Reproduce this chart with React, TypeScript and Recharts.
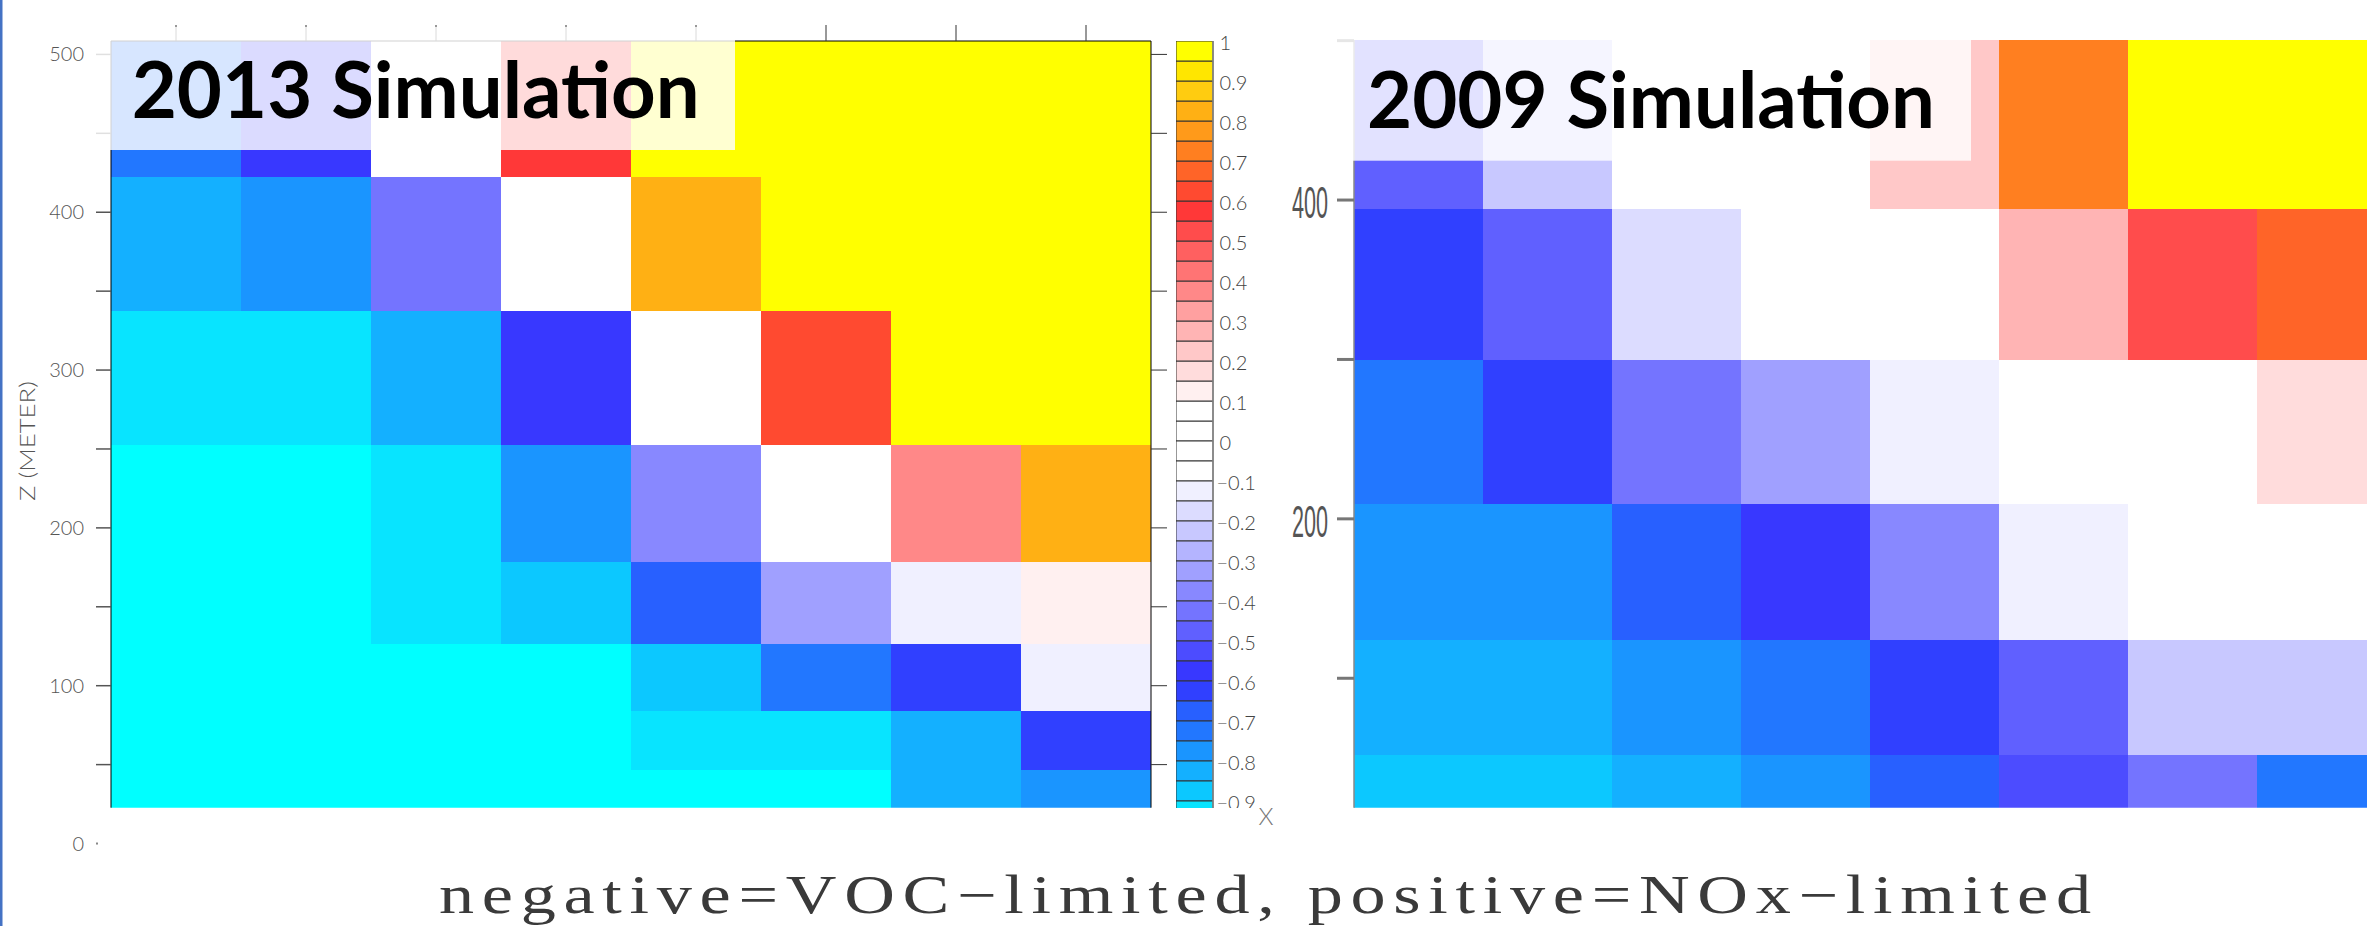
import React from "react";
import { BarChart, Bar, XAxis, YAxis, Cell } from "recharts";

// grid columns (x index of the model cross-section)
const COLUMNS = ["1", "2", "3", "4", "5", "6", "7", "8"];

// colour bar, top (1) to bottom (-1), one entry per 0.05 step
const CBAR_COLORS = [
  "#ffff00", "#ffe600", "#ffcc10", "#ffb014", "#ff9a1a", "#ff7f20", "#ff6428", "#ff4a30",
  "#ff3838", "#ff4c4c", "#ff6060", "#ff7474", "#ff8888", "#ffa0a0", "#ffb4b4", "#ffc8c8",
  "#ffdcdc", "#fff0f0", "#ffffff", "#ffffff", "#ffffff", "#ffffff", "#f0f0ff", "#dcdcff",
  "#c8c8ff", "#b4b4ff", "#a0a0ff", "#8888ff", "#7474ff", "#6060ff", "#4c4cff", "#3838ff",
  "#3040ff", "#2860ff", "#2277ff", "#1a95ff", "#14b0ff", "#0cc8ff", "#08e4ff", "#00ffff",
];
const CBAR_STEP = 0.05;
const CBAR_TICKS = [1, 0.9, 0.8, 0.7, 0.6, 0.5, 0.4, 0.3, 0.2, 0.1, 0, -0.1, -0.2, -0.3, -0.4, -0.5, -0.6, -0.7, -0.8, -0.9];

// 2013 run: layer edges (m) and indicator per layer (bottom first) per column
const EDGES_2013 = [0, 46.6, 84, 126.3, 178.6, 252.3, 337.3, 422.5, 510];
const RATIO_2013 = [
  [-0.975, -0.975, -0.975, -0.975, -0.975, -0.975, -0.825, -0.775],
  [-0.975, -0.975, -0.975, -0.975, -0.925, -0.925, -0.825, -0.625],
  [-0.975, -0.975, -0.975, -0.975, -0.875, -0.725, -0.625, -0.125],
  [-0.975, -0.975, -0.925, -0.875, -0.675, -0.325, -0.125, 0.125],
  [-0.975, -0.975, -0.925, -0.775, -0.375, 0.0, 0.375, 0.825],
  [-0.925, -0.925, -0.825, -0.575, 0.0, 0.625, 0.975, 0.975],
  [-0.825, -0.775, -0.425, 0.0, 0.825, 0.975, 0.975, 0.975],
  [-0.725, -0.575, 0.0, 0.575, 0.975, 0.975, 0.975, 0.975],
];
const Z_TICKS_2013 = [0, 50, 100, 150, 200, 250, 300, 350, 400, 450, 500];

// 2009 run
const EDGES_2009 = [0, 52, 124.3, 209.5, 299.5, 394.6, 505];
const RATIO_2009 = [
  [-0.875, -0.875, -0.825, -0.775, -0.675, -0.525, -0.425, -0.725],
  [-0.825, -0.825, -0.775, -0.725, -0.625, -0.475, -0.225, -0.225],
  [-0.775, -0.775, -0.675, -0.575, -0.375, -0.125, 0.0, 0.0],
  [-0.725, -0.625, -0.425, -0.325, -0.125, 0.0, 0.0, 0.175],
  [-0.625, -0.475, -0.175, 0.0, 0.0, 0.275, 0.525, 0.675],
  [-0.475, -0.225, 0.0, 0.0, 0.225, 0.725, 0.975, 0.975],
];
const Z_TICKS_2009 = [100, 200, 300, 400, 500];

const TICK_FONT = "Lato, 'Open Sans', sans-serif";

function colorFor(v: number) {
  let i = Math.floor((1 - v) / CBAR_STEP + 1e-9);
  if (i < 0) i = 0;
  if (i > CBAR_COLORS.length - 1) i = CBAR_COLORS.length - 1;
  return CBAR_COLORS[i];
}

function layerTable(edges: number[]) {
  return COLUMNS.map((c) => {
    const row: any = { col: c };
    for (let i = 0; i < edges.length - 1; i++) row[`l${i}`] = edges[i + 1] - edges[i];
    return row;
  });
}

const TABLE_2013 = layerTable(EDGES_2013);
const TABLE_2009 = layerTable(EDGES_2009);

const HALF = CBAR_COLORS.length / 2;
const CBAR_TABLE = [
  (() => {
    const row: any = { col: "bar" };
    for (let i = 0; i < HALF; i++) {
      row[`p${i}`] = CBAR_STEP;
      row[`n${i}`] = -CBAR_STEP;
    }
    return row;
  })(),
];

const layerBars = (ratio: number[][]) =>
  ratio.map((row, i) => (
    <Bar key={i} dataKey={`l${i}`} stackId="z" isAnimationActive={false}>
      {row.map((v, c) => (
        <Cell key={c} fill={colorFor(v)} />
      ))}
    </Bar>
  ));

function Tick2013(props: any) {
  const { x, y, payload } = props;
  const v = payload.value;
  return (
    <g>
      {v === 0 ? (
        <rect x={x + 12} y={y - 1} width={2} height={2} fill="#888" />
      ) : (
        <line x1={x + 12} x2={x + 27} y1={y} y2={y} stroke="#555" strokeWidth={1.5} />
      )}
      {v % 100 === 0 && (
        <text x={x} y={y + 7} textAnchor="end" fontFamily={TICK_FONT} fontWeight={300} fontSize={20} fill="#555">
          {v}
        </text>
      )}
    </g>
  );
}

function Tick2009(props: any) {
  const { x, y, payload } = props;
  const v = payload.value;
  return (
    <g>
      <line x1={x + 9} x2={x + 26} y1={y} y2={y} stroke="#777" strokeWidth={3} />
      {v % 200 === 0 && v < 500 && (
        <text
          x={x - 36}
          y={y + 18}
          textLength={36}
          lengthAdjust="spacingAndGlyphs"
          fontFamily="'Liberation Sans', Arial, sans-serif"
          fontSize={45}
          fill="#555"
        >
          {v}
        </text>
      )}
    </g>
  );
}

function CbarTick(props: any) {
  const { x, y, payload } = props;
  const v = payload.value;
  const label = v < 0 ? `\u2212${Math.abs(v)}` : `${v}`;
  return (
    <text x={v < 0 ? x - 3 : x} y={y + 9} textAnchor="start" fontFamily={TICK_FONT} fontWeight={300} fontSize={20} fill="#444">
      {label}
    </text>
  );
}

export default function App() {
  return (
    <div style={{ position: "absolute", left: 0, top: 0, width: 2367, height: 926, overflow: "hidden", background: "#fff" }}>
      <style>{`.heat .recharts-rectangle{shape-rendering:crispEdges}`}</style>

      {/* 2013 simulation */}
      <div className="heat" style={{ position: "absolute", left: 0, top: 0 }}>
        <BarChart
          width={1169}
          height={870}
          data={TABLE_2013}
          margin={{ top: 0, right: 0, bottom: 62.3, left: 0 }}
          barCategoryGap={0}
          barGap={0}
        >
          {layerBars(RATIO_2013)}
          <XAxis
            dataKey="col"
            orientation="top"
            height={41}
            tickSize={16}
            tickFormatter={() => ""}
            tickLine={{ stroke: "#333" }}
            axisLine={{ stroke: "#000" }}
          />
          <YAxis
            type="number"
            domain={[22.7, 508.5]}
            allowDataOverflow
            ticks={Z_TICKS_2013}
            interval={0}
            width={111}
            tickSize={15}
            tickMargin={12}
            tickLine={false}
            axisLine={{ stroke: "#000" }}
            tick={Tick2013}
          />
          <YAxis
            yAxisId="r"
            orientation="right"
            type="number"
            domain={[22.7, 508.5]}
            allowDataOverflow
            ticks={Z_TICKS_2013.filter((t) => t > 0)}
            interval={0}
            width={18}
            tickSize={16}
            tickFormatter={() => ""}
            tickLine={{ stroke: "#333" }}
            axisLine={{ stroke: "#000" }}
          />
        </BarChart>
      </div>

      {/* colour bar */}
      <div style={{ position: "absolute", left: 1176, top: 0, width: 100, height: 808, overflow: "hidden" }}>
        <BarChart
          width={97}
          height={861}
          data={CBAR_TABLE}
          margin={{ top: 41, right: 0, bottom: 20, left: 0 }}
          barCategoryGap={0}
          barGap={0}
          stackOffset="sign"
        >
          {CBAR_COLORS.slice(0, HALF).map((_, i) => (
            <Bar
              key={`p${i}`}
              dataKey={`p${i}`}
              stackId="c"
              fill={colorFor((i + 0.5) * CBAR_STEP)}
              stroke="#333"
              strokeWidth={1}
              isAnimationActive={false}
            />
          ))}
          {CBAR_COLORS.slice(0, HALF).map((_, i) => (
            <Bar
              key={`n${i}`}
              dataKey={`n${i}`}
              stackId="c"
              fill={colorFor(-(i + 0.5) * CBAR_STEP)}
              stroke="#333"
              strokeWidth={1}
              isAnimationActive={false}
            />
          ))}
          <XAxis dataKey="col" hide />
          <YAxis
            orientation="right"
            type="number"
            domain={[-1, 1]}
            allowDataOverflow
            ticks={CBAR_TICKS}
            interval={0}
            width={60}
            tickSize={0}
            tickMargin={6.5}
            tickLine={false}
            axisLine={{ stroke: "#888", strokeWidth: 1.5 }}
            tick={CbarTick}
          />
        </BarChart>
      </div>

      {/* 2009 simulation */}
      <div className="heat" style={{ position: "absolute", left: 1274, top: 0 }}>
        <BarChart
          width={1112}
          height={830}
          data={TABLE_2009}
          margin={{ top: 40, right: 0, bottom: 22.3, left: 0 }}
          barCategoryGap={0}
          barGap={0}
        >
          {layerBars(RATIO_2009)}
          <XAxis dataKey="col" hide />
          <YAxis
            type="number"
            domain={[18.8, 500.4]}
            allowDataOverflow
            ticks={Z_TICKS_2009}
            interval={0}
            width={80}
            tickSize={17}
            tickMargin={9}
            tickLine={false}
            axisLine={{ stroke: "#888", strokeWidth: 1.5 }}
            tick={Tick2009}
          />
        </BarChart>
      </div>

      {/* slide annotations */}
      <svg width={2367} height={926} style={{ position: "absolute", left: 0, top: 0, pointerEvents: "none" }}>
        <rect x={0} y={0} width={2.5} height={926} fill="#4472c4" />
        <rect x={93} y={27} width={642} height={123} fill="#fff" fillOpacity={0.82} />
        <rect x={1334} y={37} width={637} height={123.7} fill="#fff" fillOpacity={0.82} />
        <text
          x={131.7}
          y={118.3}
          textLength={568}
          lengthAdjust="spacingAndGlyphs"
          fontFamily="Lato, 'Open Sans', sans-serif"
          fontWeight={700}
          fontSize={78}
          fill="#000"
        >
          2013 Simulation
        </text>
        <text
          x={1367}
          y={128.3}
          textLength={568}
          lengthAdjust="spacingAndGlyphs"
          fontFamily="Lato, 'Open Sans', sans-serif"
          fontWeight={700}
          fontSize={78}
          fill="#000"
        >
          2009 Simulation
        </text>
        <text
          x={26}
          y={441}
          transform="rotate(-90 26 441)"
          textAnchor="middle"
          dominantBaseline="central"
          textLength={120}
          lengthAdjust="spacingAndGlyphs"
          fontFamily={TICK_FONT}
          fontWeight={300}
          fontSize={21}
          fill="#555"
        >
          Z (METER)
        </text>
        <text x={1266} y={825} textAnchor="middle" fontFamily={TICK_FONT} fontWeight={300} fontSize={24} fill="#777">
          X
        </text>
        <g transform="scale(1.3 1)">
          <text
            x={439 / 1.3}
            y={913.3}
            textLength={1652 / 1.3}
            lengthAdjust="spacing"
            fontFamily="'Liberation Serif', 'DejaVu Serif', serif"
            fontSize={54}
            fill="#3a3a3a"
          >
            negative=VOC{"\u2212"}limited, positive=NOx{"\u2212"}limited
          </text>
        </g>
      </svg>
    </div>
  );
}
